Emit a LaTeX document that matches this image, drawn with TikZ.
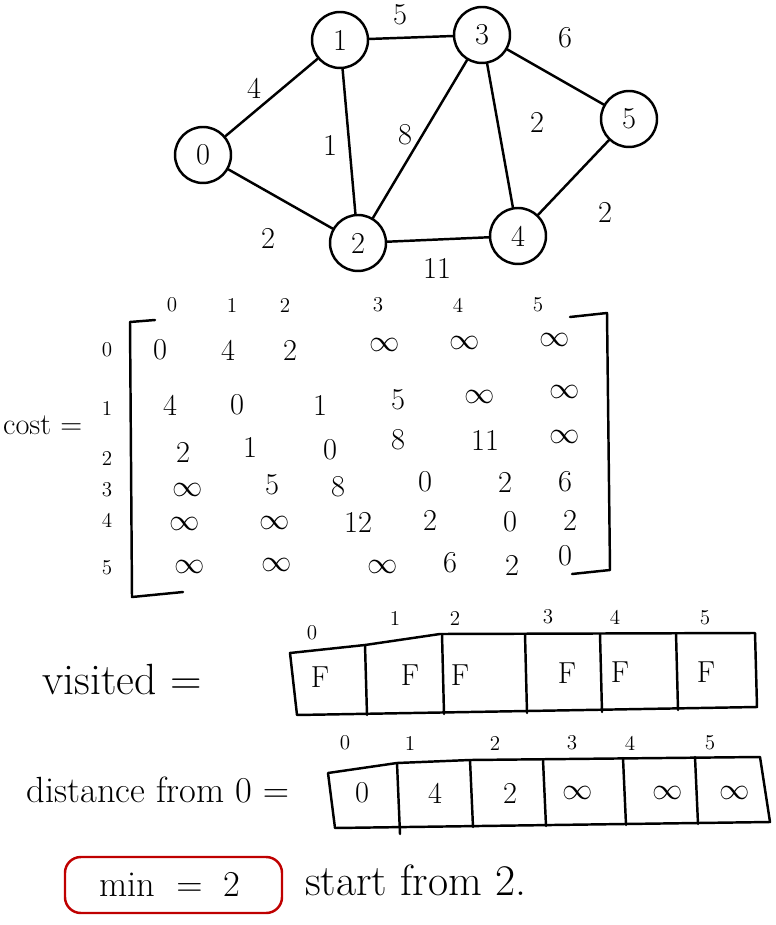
\documentclass[tikz,border=0pt]{standalone}
\usetikzlibrary{positioning}
\begin{document}
\begin{tikzpicture}[x=0.02cm,y=-0.02cm,line join=round,line cap=round,line width=1.4pt,font=\LARGE,
	vertex/.style={draw,circle,minimum size=1.12cm,inner sep=0pt},
	wt/.style={font=\LARGE},
	idx/.style={font=\large},
	entry/.style={font=\LARGE,inner sep=0pt},
	cell/.style={font=\LARGE},
	bigtext/.style={font=\huge}]
	\useasboundingbox (0,0) rectangle (776,925);
	% graph
	\node[vertex] (v0) at (203,155) {0};
	\node[vertex] (v1) at (340,40) {1};
	\node[vertex] (v3) at (482,35) {3};
	\node[vertex] (v5) at (629,119) {5};
	\node[vertex] (v2) at (358,243) {2};
	\node[vertex] (v4) at (518,236) {4};
	\draw (v0)--(v1) (v0)--(v2) (v1)--(v3) (v1)--(v2) (v3)--(v2) (v3)--(v4) (v3)--(v5) (v5)--(v4) (v2)--(v4);
	\node[wt] (w01) at (254,88) {4};
	\node[wt] (w13) at (400,15) {5};
	\node[wt] (w35) at (565,38) {6};
	\node[wt] (w12) at (330,145) {1};
	\node[wt] (w23) at (405,135) {8};
	\node[wt] (w34) at (537,122) {2};
	\node[wt] (w02) at (268,238) {2};
	\node[wt] (w24) at (437,268) {11};
	\node[wt] (w54) at (605,212) {2};
	% cost matrix
	\node[anchor=west,inner sep=0pt] (cost) at (2,425) {cost $=$};
	\foreach \t/\y in {0/350,1/408,2/458,3/490,4/520,5/568}
		\node[idx] (r\t) at (107,\y) {\t};
	\foreach \t/\x in {0/172,1/232,2/285,3/378,4/458,5/538}
		\node[idx] (c\t) at (\x,305) {\t};
	\draw (155,320)--(130,322)--(132,597)--(183,592); % left bracket
	\draw (570,317)--(607,313)--(610,570)--(572,574); % right bracket
	\foreach \t/\x/\y [count=\i] in {
		0/160/350, 4/228/350, 2/290/350, $\infty$/385/345, $\infty$/465/343, $\infty$/555/340,
		4/170/405, 0/237/405, 1/320/405, 5/398/400, $\infty$/480/397, $\infty$/565/392,
		2/183/452, 1/250/447, 0/330/450, 8/398/440, 11/485/440, $\infty$/565/437,
		$\infty$/188/490, 5/272/485, 8/338/487, 0/425/482, 2/505/482, 6/565/482,
		$\infty$/185/524, $\infty$/275/523, 12/358/522, 2/430/520, 0/510/522, 2/570/520,
		$\infty$/190/567, $\infty$/277/565, $\infty$/383/567, 6/450/563, 2/512/565, 0/565/556}
		\node[entry] (m\i) at (\x,\y) {\t};
	% visited array
	\node[font=\Huge] (vis) at (122,680) {visited $=$};
	\draw (290,653)--(365,645)--(440,634)--(755,633)--(757,707)--(297,715)--cycle;
	\foreach \x/\a/\b in {365/645/715,442/634/714,525/634/713,600/634/712,676/633/710}
		\draw (\x,\a)--(\x+2,\b);
	\foreach \t/\x/\y in {0/312/633,1/395/618,2/455/618,3/548/617,4/615/617,5/705/618}
		\node[idx] (vi\t) at (\x,\y) {\t};
	\foreach \x/\y [count=\i] in {320/677,410/675,460/675,567/673,620/672,706/672}
		\node[cell] (f\i) at (\x,\y) {F};
	% distance array
	\node[bigtext] (dist) at (158,790) {distance from 0 $=$};
	\draw (328,773)--(397,763)--(470,760)--(760,757)--(770,822)--(335,828)--cycle;
	\foreach \x/\a/\b in {397/763/834,470/760/827,543/760/826,623/758/825,695/757/824}
		\draw (\x,\a)--(\x+3,\b);
	\foreach \t/\x/\y in {0/345,1/410,2/495,3/572,4/630,5/710}
		\node[idx] (di\t) at (\x,743) {\t};
	\foreach \t/\x [count=\i] in {0/362,4/435,2/510,$\infty$/578,$\infty$/668,$\infty$/735}
		\node[cell] (d\i) at (\x,793) {\t};
	% min
	\node[bigtext] (minv) at (170,884) {min $\;=\;$ 2};
	\draw[red!75!black,rounded corners=9pt] (65,857) rectangle (282,913);
	\node[font=\Huge,anchor=west] (start) at (298,880) {start from 2.};
\end{tikzpicture}
\end{document}
